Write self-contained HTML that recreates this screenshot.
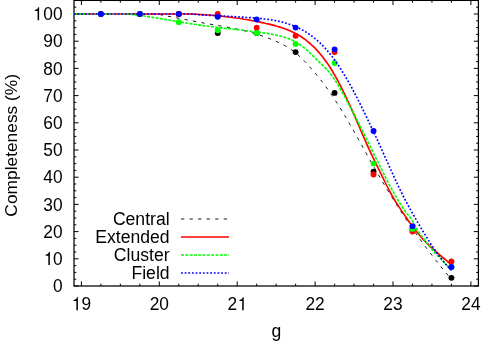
<!DOCTYPE html>
<html><head><meta charset="utf-8"><title>Completeness</title>
<style>html,body{margin:0;padding:0;background:#fff;}body{width:481px;height:341px;overflow:hidden;position:relative;font-family:"Liberation Sans",sans-serif;}</style>
</head><body>
<svg width="481" height="341" viewBox="0 0 481 341" style="position:absolute;left:0;top:0;will-change:transform">
<rect x="0" y="0" width="481" height="341" fill="#ffffff"/>
<g stroke="#000" stroke-width="1.25" fill="none" stroke-linecap="butt">
<rect x="74.0" y="0.4" width="404.4" height="285.6"/>
</g>
<path d="M74.0,286.00h4.6M478.4,286.00h-4.6M74.0,279.20h2.3M478.4,279.20h-2.3M74.0,272.40h2.3M478.4,272.40h-2.3M74.0,265.60h2.3M478.4,265.60h-2.3M74.0,258.80h4.6M478.4,258.80h-4.6M74.0,252.00h2.3M478.4,252.00h-2.3M74.0,245.20h2.3M478.4,245.20h-2.3M74.0,238.40h2.3M478.4,238.40h-2.3M74.0,231.60h4.6M478.4,231.60h-4.6M74.0,224.80h2.3M478.4,224.80h-2.3M74.0,218.00h2.3M478.4,218.00h-2.3M74.0,211.20h2.3M478.4,211.20h-2.3M74.0,204.40h4.6M478.4,204.40h-4.6M74.0,197.60h2.3M478.4,197.60h-2.3M74.0,190.80h2.3M478.4,190.80h-2.3M74.0,184.00h2.3M478.4,184.00h-2.3M74.0,177.20h4.6M478.4,177.20h-4.6M74.0,170.40h2.3M478.4,170.40h-2.3M74.0,163.60h2.3M478.4,163.60h-2.3M74.0,156.80h2.3M478.4,156.80h-2.3M74.0,150.00h4.6M478.4,150.00h-4.6M74.0,143.20h2.3M478.4,143.20h-2.3M74.0,136.40h2.3M478.4,136.40h-2.3M74.0,129.60h2.3M478.4,129.60h-2.3M74.0,122.80h4.6M478.4,122.80h-4.6M74.0,116.00h2.3M478.4,116.00h-2.3M74.0,109.20h2.3M478.4,109.20h-2.3M74.0,102.40h2.3M478.4,102.40h-2.3M74.0,95.60h4.6M478.4,95.60h-4.6M74.0,88.80h2.3M478.4,88.80h-2.3M74.0,82.00h2.3M478.4,82.00h-2.3M74.0,75.20h2.3M478.4,75.20h-2.3M74.0,68.40h4.6M478.4,68.40h-4.6M74.0,61.60h2.3M478.4,61.60h-2.3M74.0,54.80h2.3M478.4,54.80h-2.3M74.0,48.00h2.3M478.4,48.00h-2.3M74.0,41.20h4.6M478.4,41.20h-4.6M74.0,34.40h2.3M478.4,34.40h-2.3M74.0,27.60h2.3M478.4,27.60h-2.3M74.0,20.80h2.3M478.4,20.80h-2.3M74.0,14.00h4.6M478.4,14.00h-4.6M74.0,7.20h2.3M478.4,7.20h-2.3M74.0,0.40h2.3M478.4,0.40h-2.3M81.40,286.0v-4.6M81.40,0.4v4.6M100.88,286.0v-2.3M100.88,0.4v2.3M120.35,286.0v-2.3M120.35,0.4v2.3M139.83,286.0v-2.3M139.83,0.4v2.3M159.30,286.0v-4.6M159.30,0.4v4.6M178.78,286.0v-2.3M178.78,0.4v2.3M198.25,286.0v-2.3M198.25,0.4v2.3M217.73,286.0v-2.3M217.73,0.4v2.3M237.20,286.0v-4.6M237.20,0.4v4.6M256.68,286.0v-2.3M256.68,0.4v2.3M276.15,286.0v-2.3M276.15,0.4v2.3M295.62,286.0v-2.3M295.62,0.4v2.3M315.10,286.0v-4.6M315.10,0.4v4.6M334.58,286.0v-2.3M334.58,0.4v2.3M354.05,286.0v-2.3M354.05,0.4v2.3M373.52,286.0v-2.3M373.52,0.4v2.3M393.00,286.0v-4.6M393.00,0.4v4.6M412.48,286.0v-2.3M412.48,0.4v2.3M431.95,286.0v-2.3M431.95,0.4v2.3M451.43,286.0v-2.3M451.43,0.4v2.3M470.90,286.0v-4.6M470.90,0.4v4.6" stroke="#000" stroke-width="1" fill="none"/>
<g font-family="Liberation Sans, sans-serif" font-size="17.6px" fill="#000">
<text transform="translate(52.96,292.20) scale(1,1.065)" font-size="17.33px">0</text>
<path transform="translate(43.83,265.00) scale(0.01733,-0.01820)" d="M260,0H348V709H291C276,640 230,575 102,560V505H260Z" fill="#000"/><text transform="translate(52.96,265.00) scale(1,1.065)" font-size="17.33px">0</text>
<text transform="translate(43.33,237.80) scale(1,1.065)" font-size="17.33px">2</text><text transform="translate(52.96,237.80) scale(1,1.065)" font-size="17.33px">0</text>
<text transform="translate(43.33,210.60) scale(1,1.065)" font-size="17.33px">3</text><text transform="translate(52.96,210.60) scale(1,1.065)" font-size="17.33px">0</text>
<text transform="translate(43.33,183.40) scale(1,1.065)" font-size="17.33px">4</text><text transform="translate(52.96,183.40) scale(1,1.065)" font-size="17.33px">0</text>
<text transform="translate(43.33,156.20) scale(1,1.065)" font-size="17.33px">5</text><text transform="translate(52.96,156.20) scale(1,1.065)" font-size="17.33px">0</text>
<text transform="translate(43.33,129.00) scale(1,1.065)" font-size="17.33px">6</text><text transform="translate(52.96,129.00) scale(1,1.065)" font-size="17.33px">0</text>
<text transform="translate(43.33,101.80) scale(1,1.065)" font-size="17.33px">7</text><text transform="translate(52.96,101.80) scale(1,1.065)" font-size="17.33px">0</text>
<text transform="translate(43.33,74.60) scale(1,1.065)" font-size="17.33px">8</text><text transform="translate(52.96,74.60) scale(1,1.065)" font-size="17.33px">0</text>
<text transform="translate(43.33,47.40) scale(1,1.065)" font-size="17.33px">9</text><text transform="translate(52.96,47.40) scale(1,1.065)" font-size="17.33px">0</text>
<path transform="translate(33.09,20.20) scale(0.01733,-0.01820)" d="M260,0H348V709H291C276,640 230,575 102,560V505H260Z" fill="#000"/><text transform="translate(43.33,20.20) scale(1,1.065)" font-size="17.33px">0</text><text transform="translate(52.96,20.20) scale(1,1.065)" font-size="17.33px">0</text>
<path transform="translate(71.86,310.20) scale(0.01733,-0.01820)" d="M260,0H348V709H291C276,640 230,575 102,560V505H260Z" fill="#000"/><text transform="translate(81.40,310.20) scale(1,1.065)" font-size="17.33px">9</text>
<text transform="translate(149.66,310.20) scale(1,1.065)" font-size="17.33px">2</text><text transform="translate(159.30,310.20) scale(1,1.065)" font-size="17.33px">0</text>
<text transform="translate(227.56,310.20) scale(1,1.065)" font-size="17.33px">2</text><path transform="translate(237.70,310.20) scale(0.01733,-0.01820)" d="M260,0H348V709H291C276,640 230,575 102,560V505H260Z" fill="#000"/>
<text transform="translate(305.46,310.20) scale(1,1.065)" font-size="17.33px">2</text><text transform="translate(315.10,310.20) scale(1,1.065)" font-size="17.33px">2</text>
<text transform="translate(383.36,310.20) scale(1,1.065)" font-size="17.33px">2</text><text transform="translate(393.00,310.20) scale(1,1.065)" font-size="17.33px">3</text>
<text transform="translate(461.26,310.20) scale(1,1.065)" font-size="17.33px">2</text><text transform="translate(470.90,310.20) scale(1,1.065)" font-size="17.33px">4</text>
<text x="276.4" y="336.5" text-anchor="middle">g</text>
<text transform="translate(17.2,145.3) rotate(-90)" text-anchor="middle" font-size="17.35px">Completeness (%)</text>
<text x="169.6" y="225.10" text-anchor="end">Central</text>
<text x="169.6" y="243.10" text-anchor="end">Extended</text>
<text x="169.6" y="261.10" text-anchor="end">Cluster</text>
<text x="169.6" y="279.10" text-anchor="end">Field</text>
</g>
<path d="M74.0,14.0 L76.0,14.0 L78.0,14.0 L80.0,14.0 L82.0,14.0 L84.0,14.0 L86.0,14.0 L88.0,14.0 L90.0,14.0 L92.0,14.0 L94.0,14.0 L96.0,14.0 L98.0,14.0 L100.0,14.0 L102.0,14.0 L104.0,14.0 L106.0,14.0 L108.0,14.0 L110.0,14.0 L112.0,14.0 L114.0,14.0 L116.0,14.0 L118.0,14.0 L120.0,14.0 L122.0,14.0 L124.0,14.0 L126.0,14.0 L128.0,14.0 L130.0,14.0 L132.0,14.0 L134.0,14.0 L136.0,14.0 L138.0,14.0 L140.0,14.0 L142.0,14.0 L144.0,14.0 L146.0,14.0 L148.0,14.0 L150.0,14.0 L152.0,14.0 L154.0,14.0 L156.0,14.0 L158.0,14.3 L160.0,14.6 L162.0,15.1 L164.0,15.5 L166.0,15.8 L168.0,16.2 L170.0,16.6 L172.0,16.9 L174.0,17.3 L176.0,17.7 L178.0,18.1 L180.0,18.5 L182.0,18.9 L184.0,19.3 L186.0,19.7 L188.0,20.1 L190.0,20.4 L192.0,20.8 L194.0,21.2 L196.0,21.6 L198.0,22.0 L200.0,22.3 L202.0,22.7 L204.0,23.1 L206.0,23.4 L208.0,23.8 L210.0,24.1 L212.0,24.5 L214.0,24.8 L216.0,25.2 L218.0,25.5 L220.0,25.9 L222.0,26.2 L224.0,26.6 L226.0,26.9 L228.0,27.3 L230.0,27.7 L232.0,28.1 L234.0,28.5 L236.0,28.9 L238.0,29.3 L240.0,29.8 L242.0,30.2 L244.0,30.7 L246.0,31.2 L248.0,31.7 L250.0,32.2 L252.0,32.7 L254.0,33.3 L256.0,33.9 L258.0,34.5 L260.0,35.2 L262.0,35.8 L264.0,36.5 L266.0,37.2 L268.0,38.0 L270.0,38.8 L272.0,39.6 L274.0,40.4 L276.0,41.3 L278.0,42.2 L280.0,43.2 L282.0,44.1 L284.0,45.2 L286.0,46.3 L288.0,47.5 L290.0,48.8 L292.0,50.1 L294.0,51.6 L296.0,53.2 L298.0,54.9 L300.0,56.7 L302.0,58.6 L304.0,60.6 L306.0,62.7 L308.0,64.9 L310.0,67.1 L312.0,69.4 L314.0,71.7 L316.0,74.1 L318.0,76.6 L320.0,79.1 L322.0,81.6 L324.0,84.3 L326.0,87.0 L328.0,89.7 L330.0,92.6 L332.0,95.5 L334.0,98.4 L336.0,101.5 L338.0,104.6 L340.0,107.7 L342.0,111.0 L344.0,114.3 L346.0,117.7 L348.0,121.1 L350.0,124.5 L352.0,128.0 L354.0,131.5 L356.0,135.1 L358.0,138.6 L360.0,142.2 L362.0,145.8 L364.0,149.3 L366.0,152.9 L368.0,156.5 L370.0,160.0 L372.0,163.5 L374.0,167.0 L376.0,170.5 L378.0,174.0 L380.0,177.4 L382.0,180.8 L384.0,184.2 L386.0,187.5 L388.0,190.9 L390.0,194.2 L392.0,197.4 L394.0,200.6 L396.0,203.8 L398.0,207.0 L400.0,210.1 L402.0,213.2 L404.0,216.2 L406.0,219.2 L408.0,222.2 L410.0,225.1 L412.0,228.0 L414.0,230.9 L416.0,233.7 L418.0,236.5 L420.0,239.3 L422.0,242.0 L424.0,244.7 L426.0,247.4 L428.0,250.1 L430.0,252.7 L432.0,255.3 L434.0,257.9 L436.0,260.4 L438.0,263.0 L440.0,265.5 L442.0,268.0 L444.0,270.4 L446.0,272.8 L448.0,275.3 L450.0,277.7 L451.8,279.7" fill="none" stroke="#000" stroke-width="0.9" stroke-dasharray="3.3 5.25" stroke-linejoin="round"/>
<path d="M181,219.0H229" fill="none" stroke="#000" stroke-width="0.9" stroke-dasharray="3.3 5.25"/>
<circle cx="100.88" cy="14.00" r="2.95" fill="#000000"/>
<circle cx="139.83" cy="14.00" r="2.95" fill="#000000"/>
<circle cx="178.78" cy="14.00" r="2.95" fill="#000000"/>
<circle cx="217.73" cy="33.04" r="2.95" fill="#000000"/>
<circle cx="256.68" cy="33.04" r="2.95" fill="#000000"/>
<circle cx="295.62" cy="52.08" r="2.95" fill="#000000"/>
<circle cx="334.58" cy="92.88" r="2.95" fill="#000000"/>
<circle cx="373.52" cy="171.76" r="2.95" fill="#000000"/>
<circle cx="412.48" cy="228.88" r="2.95" fill="#000000"/>
<circle cx="451.43" cy="277.84" r="2.95" fill="#000000"/>
<path d="M74.0,14.0 L76.0,14.0 L78.0,14.0 L80.0,14.0 L82.0,14.0 L84.0,14.0 L86.0,14.0 L88.0,14.0 L90.0,14.0 L92.0,14.0 L94.0,14.0 L96.0,14.0 L98.0,14.0 L100.0,14.0 L102.0,14.0 L104.0,14.0 L106.0,14.0 L108.0,14.0 L110.0,14.0 L112.0,14.0 L114.0,14.0 L116.0,14.0 L118.0,14.0 L120.0,14.0 L122.0,14.0 L124.0,14.0 L126.0,14.0 L128.0,14.0 L130.0,14.0 L132.0,14.0 L134.0,14.0 L136.0,14.0 L138.0,14.0 L140.0,14.0 L142.0,14.0 L144.0,14.0 L146.0,14.0 L148.0,14.0 L150.0,14.0 L152.0,14.0 L154.0,14.0 L156.0,14.0 L158.0,14.0 L160.0,14.0 L162.0,14.0 L164.0,14.0 L166.0,14.0 L168.0,14.0 L170.0,14.0 L172.0,14.0 L174.0,14.0 L176.0,14.0 L178.0,14.0 L180.0,14.0 L182.0,14.0 L184.0,14.0 L186.0,14.0 L188.0,14.0 L190.0,14.0 L192.0,14.0 L194.0,14.1 L196.0,14.2 L198.0,14.3 L200.0,14.5 L202.0,14.6 L204.0,14.7 L206.0,14.8 L208.0,15.0 L210.0,15.1 L212.0,15.3 L214.0,15.5 L216.0,15.7 L218.0,15.8 L220.0,16.0 L222.0,16.2 L224.0,16.5 L226.0,16.7 L228.0,16.9 L230.0,17.2 L232.0,17.4 L234.0,17.7 L236.0,18.0 L238.0,18.2 L240.0,18.5 L242.0,18.8 L244.0,19.2 L246.0,19.5 L248.0,19.8 L250.0,20.2 L252.0,20.6 L254.0,20.9 L256.0,21.3 L258.0,21.7 L260.0,22.1 L262.0,22.6 L264.0,23.0 L266.0,23.5 L268.0,23.9 L270.0,24.4 L272.0,24.9 L274.0,25.4 L276.0,26.0 L278.0,26.5 L280.0,27.1 L282.0,27.8 L284.0,28.4 L286.0,29.2 L288.0,29.9 L290.0,30.8 L292.0,31.7 L294.0,32.7 L296.0,33.7 L298.0,34.8 L300.0,36.0 L302.0,37.3 L304.0,38.7 L306.0,40.2 L308.0,41.8 L310.0,43.5 L312.0,45.3 L314.0,47.2 L316.0,49.2 L318.0,51.4 L320.0,53.7 L322.0,56.1 L324.0,58.7 L326.0,61.4 L328.0,64.3 L330.0,67.3 L332.0,70.5 L334.0,73.9 L336.0,77.4 L338.0,81.1 L340.0,84.9 L342.0,88.8 L344.0,92.9 L346.0,97.1 L348.0,101.3 L350.0,105.7 L352.0,110.1 L354.0,114.6 L356.0,119.2 L358.0,123.8 L360.0,128.5 L362.0,133.1 L364.0,137.8 L366.0,142.3 L368.0,146.8 L370.0,151.2 L372.0,155.4 L374.0,159.6 L376.0,163.7 L378.0,167.8 L380.0,171.8 L382.0,175.9 L384.0,180.0 L386.0,184.0 L388.0,188.0 L390.0,191.8 L392.0,195.5 L394.0,199.0 L396.0,202.3 L398.0,205.4 L400.0,208.4 L402.0,211.4 L404.0,214.4 L406.0,217.3 L408.0,220.2 L410.0,223.0 L412.0,225.8 L414.0,228.5 L416.0,231.0 L418.0,233.5 L420.0,235.8 L422.0,238.1 L424.0,240.2 L426.0,242.3 L428.0,244.2 L430.0,246.2 L432.0,248.0 L434.0,249.8 L436.0,251.6 L438.0,253.3 L440.0,255.1 L442.0,256.8 L444.0,258.5 L446.0,260.2 L448.0,261.9 L450.0,263.7 L451.8,265.3" fill="none" stroke="#ff0000" stroke-width="1.65" stroke-linejoin="round"/>
<path d="M181,237.0H229" fill="none" stroke="#ff0000" stroke-width="1.65"/>
<circle cx="100.88" cy="14.00" r="2.95" fill="#ff0000"/>
<circle cx="139.83" cy="14.00" r="2.95" fill="#ff0000"/>
<circle cx="178.78" cy="14.00" r="2.95" fill="#ff0000"/>
<circle cx="217.73" cy="14.00" r="2.95" fill="#ff0000"/>
<circle cx="256.68" cy="27.60" r="2.95" fill="#ff0000"/>
<circle cx="295.62" cy="35.76" r="2.95" fill="#ff0000"/>
<circle cx="334.58" cy="52.08" r="2.95" fill="#ff0000"/>
<circle cx="373.52" cy="174.48" r="2.95" fill="#ff0000"/>
<circle cx="412.48" cy="231.60" r="2.95" fill="#ff0000"/>
<circle cx="451.43" cy="261.52" r="2.95" fill="#ff0000"/>
<path d="M74.0,14.0 L76.0,14.0 L78.0,14.0 L80.0,14.0 L82.0,14.0 L84.0,14.0 L86.0,14.0 L88.0,14.0 L90.0,14.0 L92.0,14.0 L94.0,14.0 L96.0,14.0 L98.0,14.0 L100.0,14.0 L102.0,14.0 L104.0,14.0 L106.0,14.0 L108.0,14.0 L110.0,14.0 L112.0,14.0 L114.0,14.0 L116.0,14.0 L118.0,14.0 L120.0,14.0 L122.0,14.0 L124.0,14.0 L126.0,14.0 L128.0,14.0 L130.0,14.2 L132.0,14.5 L134.0,14.7 L136.0,15.0 L138.0,15.2 L140.0,15.5 L142.0,15.8 L144.0,16.0 L146.0,16.3 L148.0,16.6 L150.0,16.9 L152.0,17.2 L154.0,17.6 L156.0,17.9 L158.0,18.2 L160.0,18.5 L162.0,18.9 L164.0,19.2 L166.0,19.5 L168.0,19.9 L170.0,20.2 L172.0,20.5 L174.0,20.9 L176.0,21.2 L178.0,21.6 L180.0,21.9 L182.0,22.2 L184.0,22.6 L186.0,22.9 L188.0,23.2 L190.0,23.6 L192.0,23.9 L194.0,24.2 L196.0,24.5 L198.0,24.8 L200.0,25.1 L202.0,25.4 L204.0,25.7 L206.0,26.0 L208.0,26.2 L210.0,26.5 L212.0,26.7 L214.0,27.0 L216.0,27.2 L218.0,27.5 L220.0,27.7 L222.0,27.9 L224.0,28.2 L226.0,28.4 L228.0,28.6 L230.0,28.8 L232.0,29.0 L234.0,29.2 L236.0,29.5 L238.0,29.7 L240.0,29.9 L242.0,30.1 L244.0,30.3 L246.0,30.6 L248.0,30.8 L250.0,31.1 L252.0,31.3 L254.0,31.6 L256.0,31.8 L258.0,32.1 L260.0,32.4 L262.0,32.7 L264.0,33.0 L266.0,33.3 L268.0,33.6 L270.0,33.9 L272.0,34.3 L274.0,34.7 L276.0,35.0 L278.0,35.5 L280.0,36.0 L282.0,36.5 L284.0,37.1 L286.0,37.7 L288.0,38.5 L290.0,39.3 L292.0,40.1 L294.0,41.1 L296.0,42.2 L298.0,43.4 L300.0,44.7 L302.0,46.2 L304.0,47.7 L306.0,49.4 L308.0,51.1 L310.0,53.0 L312.0,54.9 L314.0,56.8 L316.0,58.8 L318.0,60.8 L320.0,62.8 L322.0,64.7 L324.0,66.7 L326.0,68.7 L328.0,70.8 L330.0,73.1 L332.0,75.7 L334.0,78.6 L336.0,81.7 L338.0,85.0 L340.0,88.3 L342.0,91.8 L344.0,95.3 L346.0,98.9 L348.0,102.6 L350.0,106.3 L352.0,110.1 L354.0,114.0 L356.0,117.9 L358.0,121.8 L360.0,125.8 L362.0,129.8 L364.0,133.9 L366.0,137.9 L368.0,142.0 L370.0,146.1 L372.0,150.2 L374.0,154.3 L376.0,158.3 L378.0,162.4 L380.0,166.4 L382.0,170.4 L384.0,174.4 L386.0,178.3 L388.0,182.2 L390.0,186.0 L392.0,189.7 L394.0,193.3 L396.0,196.8 L398.0,200.2 L400.0,203.5 L402.0,206.5 L404.0,209.5 L406.0,212.2 L408.0,214.8 L410.0,217.2 L412.0,219.9 L414.0,223.6 L416.0,227.6 L418.0,231.3 L420.0,234.2 L422.0,236.6 L424.0,239.1 L426.0,241.8 L428.0,244.5 L430.0,247.1 L432.0,249.6 L434.0,251.8 L436.0,253.8 L438.0,255.8 L440.0,257.8 L442.0,259.9 L444.0,262.0 L446.0,264.3 L448.0,266.5 L450.0,268.7 L451.8,270.6" fill="none" stroke="#00ff00" stroke-width="1.65" stroke-dasharray="3.0 1.31" stroke-linejoin="round"/>
<path d="M181,255.0H229" fill="none" stroke="#00ff00" stroke-width="1.65" stroke-dasharray="3.0 1.31"/>
<circle cx="100.88" cy="14.00" r="2.95" fill="#00ff00"/>
<circle cx="139.83" cy="14.00" r="2.95" fill="#00ff00"/>
<circle cx="178.78" cy="22.16" r="2.95" fill="#00ff00"/>
<circle cx="217.73" cy="30.32" r="2.95" fill="#00ff00"/>
<circle cx="256.68" cy="33.04" r="2.95" fill="#00ff00"/>
<circle cx="295.62" cy="43.92" r="2.95" fill="#00ff00"/>
<circle cx="334.58" cy="62.96" r="2.95" fill="#00ff00"/>
<circle cx="373.52" cy="163.60" r="2.95" fill="#00ff00"/>
<circle cx="412.48" cy="228.88" r="2.95" fill="#00ff00"/>
<circle cx="451.43" cy="266.96" r="2.95" fill="#00ff00"/>
<path d="M74.0,14.0 L76.0,14.0 L78.0,14.0 L80.0,14.0 L82.0,14.0 L84.0,14.0 L86.0,14.0 L88.0,14.0 L90.0,14.0 L92.0,14.0 L94.0,14.0 L96.0,14.0 L98.0,14.0 L100.0,14.0 L102.0,14.0 L104.0,14.0 L106.0,14.0 L108.0,14.0 L110.0,14.0 L112.0,14.0 L114.0,14.0 L116.0,14.0 L118.0,14.0 L120.0,14.0 L122.0,14.0 L124.0,14.0 L126.0,14.0 L128.0,14.0 L130.0,14.0 L132.0,14.0 L134.0,14.0 L136.0,14.0 L138.0,14.0 L140.0,14.0 L142.0,14.0 L144.0,14.0 L146.0,14.0 L148.0,14.0 L150.0,14.0 L152.0,14.0 L154.0,14.0 L156.0,14.0 L158.0,14.0 L160.0,14.0 L162.0,14.0 L164.0,14.0 L166.0,14.0 L168.0,14.0 L170.0,14.0 L172.0,14.0 L174.0,14.0 L176.0,14.0 L178.0,14.0 L180.0,14.0 L182.0,14.0 L184.0,14.0 L186.0,14.0 L188.0,14.0 L190.0,14.0 L192.0,14.1 L194.0,14.2 L196.0,14.4 L198.0,14.6 L200.0,14.8 L202.0,15.0 L204.0,15.1 L206.0,15.2 L208.0,15.3 L210.0,15.4 L212.0,15.4 L214.0,15.5 L216.0,15.6 L218.0,15.7 L220.0,15.8 L222.0,15.9 L224.0,16.0 L226.0,16.1 L228.0,16.3 L230.0,16.4 L232.0,16.5 L234.0,16.6 L236.0,16.7 L238.0,16.8 L240.0,17.0 L242.0,17.1 L244.0,17.2 L246.0,17.4 L248.0,17.5 L250.0,17.6 L252.0,17.8 L254.0,17.9 L256.0,18.1 L258.0,18.3 L260.0,18.5 L262.0,18.6 L264.0,18.9 L266.0,19.1 L268.0,19.4 L270.0,19.6 L272.0,20.0 L274.0,20.3 L276.0,20.7 L278.0,21.1 L280.0,21.5 L282.0,22.0 L284.0,22.6 L286.0,23.2 L288.0,23.8 L290.0,24.5 L292.0,25.2 L294.0,26.0 L296.0,26.8 L298.0,27.7 L300.0,28.7 L302.0,29.8 L304.0,30.9 L306.0,32.1 L308.0,33.4 L310.0,34.7 L312.0,36.2 L314.0,37.7 L316.0,39.3 L318.0,41.1 L320.0,42.9 L322.0,44.9 L324.0,46.9 L326.0,49.1 L328.0,51.4 L330.0,53.9 L332.0,56.4 L334.0,59.1 L336.0,61.9 L338.0,64.8 L340.0,67.8 L342.0,71.0 L344.0,74.2 L346.0,77.6 L348.0,81.0 L350.0,84.6 L352.0,88.2 L354.0,92.0 L356.0,95.8 L358.0,99.7 L360.0,103.7 L362.0,107.7 L364.0,111.8 L366.0,115.9 L368.0,120.1 L370.0,124.3 L372.0,128.5 L374.0,132.8 L376.0,137.0 L378.0,141.4 L380.0,145.7 L382.0,150.1 L384.0,154.6 L386.0,159.1 L388.0,163.5 L390.0,168.0 L392.0,172.4 L394.0,176.8 L396.0,181.1 L398.0,185.4 L400.0,189.6 L402.0,193.6 L404.0,197.6 L406.0,201.4 L408.0,205.2 L410.0,208.8 L412.0,212.4 L414.0,215.9 L416.0,219.4 L418.0,222.9 L420.0,226.3 L422.0,229.7 L424.0,233.0 L426.0,236.3 L428.0,239.5 L430.0,242.7 L432.0,245.7 L434.0,248.7 L436.0,251.6 L438.0,254.4 L440.0,257.1 L442.0,259.7 L444.0,262.2 L446.0,264.5 L448.0,266.8 L450.0,268.9 L451.8,270.6" fill="none" stroke="#0000ff" stroke-width="1.65" stroke-dasharray="1.8 1.85" stroke-linejoin="round"/>
<path d="M181,273.0H229" fill="none" stroke="#0000ff" stroke-width="1.65" stroke-dasharray="1.8 1.85"/>
<circle cx="100.88" cy="14.00" r="2.95" fill="#0000ff"/>
<circle cx="139.83" cy="14.00" r="2.95" fill="#0000ff"/>
<circle cx="178.78" cy="14.00" r="2.95" fill="#0000ff"/>
<circle cx="217.73" cy="16.72" r="2.95" fill="#0000ff"/>
<circle cx="256.68" cy="19.44" r="2.95" fill="#0000ff"/>
<circle cx="295.62" cy="27.60" r="2.95" fill="#0000ff"/>
<circle cx="334.58" cy="49.36" r="2.95" fill="#0000ff"/>
<circle cx="373.52" cy="130.96" r="2.95" fill="#0000ff"/>
<circle cx="412.48" cy="226.16" r="2.95" fill="#0000ff"/>
<circle cx="451.43" cy="266.96" r="2.95" fill="#0000ff"/>
</svg>
</body></html>
